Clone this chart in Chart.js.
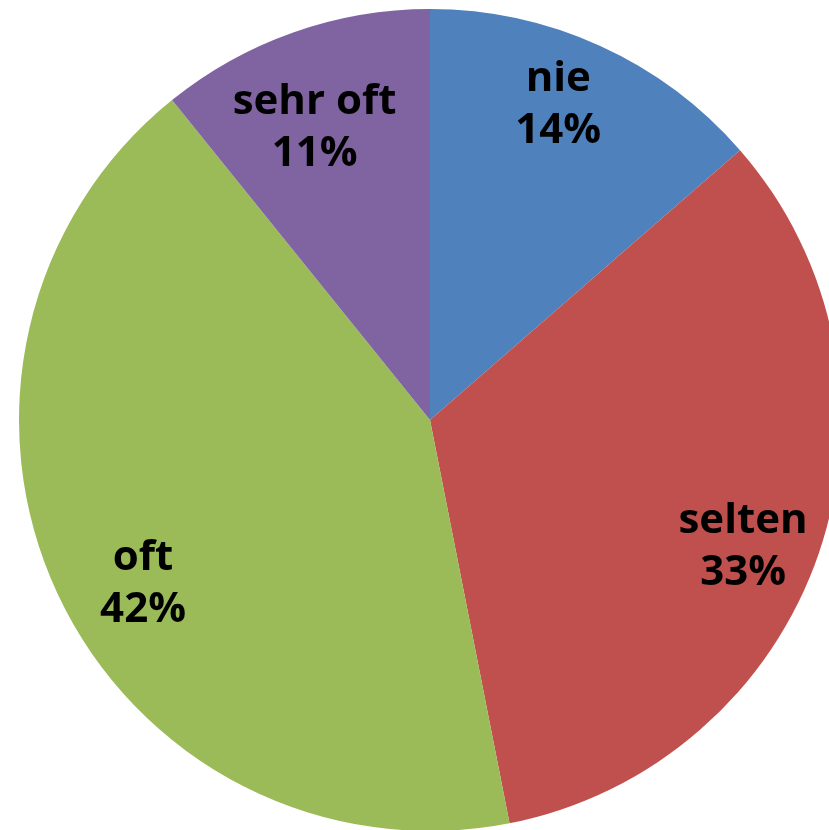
<!DOCTYPE html>
<html>
<head>
<meta charset="utf-8">
<script src="https://cdn.jsdelivr.net/npm/chart.js@4"></script>
<style>
  html, body { margin: 0; padding: 0; background: #fff; overflow: hidden; }
  #wrap { position: absolute; left: 0; top: 0; width: 860px; height: 840px; }
</style>
</head>
<body>
<div id="wrap"><canvas id="myChart" width="860" height="840"></canvas></div>
<script>
var labels = ["nie", "selten", "oft", "sehr oft"];
var values = [13.6, 33.3, 42.3, 10.8];
var pctLabels = ["14%", "33%", "42%", "11%"];
var sliceColors = ["#4F81BD", "#C0504D", "#9BBB59", "#8064A2"];

// small hand nudges so labels sit like in the original
var labelNudge = [[-8, -16], [2, 21], [11, 25], [-6, 18]];

// draws "name / pct" inside each slice
var sliceLabels = {
  id: "sliceLabels",
  afterDatasetsDraw: function (chart) {
    var ctx = chart.ctx;
    var meta = chart.getDatasetMeta(0);
    ctx.save();
    ctx.fillStyle = "#000";
    ctx.font = "bold 42px 'Open Sans', 'Noto Sans', sans-serif";
    ctx.textAlign = "center";
    ctx.textBaseline = "middle";
    meta.data.forEach(function (arc, i) {
      var mid = (arc.startAngle + arc.endAngle) / 2;
      var r = arc.outerRadius * 0.8;
      var x = arc.x + Math.cos(mid) * r + labelNudge[i][0];
      var y = arc.y + Math.sin(mid) * r + labelNudge[i][1];
      ctx.fillText(labels[i], x, y - 26);
      ctx.fillText(pctLabels[i], x, y + 26);
    });
    ctx.restore();
  }
};

new Chart("myChart", {
  type: "pie",
  data: {
    labels: labels,
    datasets: [
      {
        backgroundColor: sliceColors,
        borderWidth: 0,
        data: values,
      },
    ],
  },
  options: {
    responsive: false,
    animation: false,
    layout: { padding: { top: 9, bottom: 9 } },
    plugins: {
      legend: { display: false },
      tooltip: { enabled: false },
    },
  },
  plugins: [sliceLabels],
});
</script>
</body>
</html>
